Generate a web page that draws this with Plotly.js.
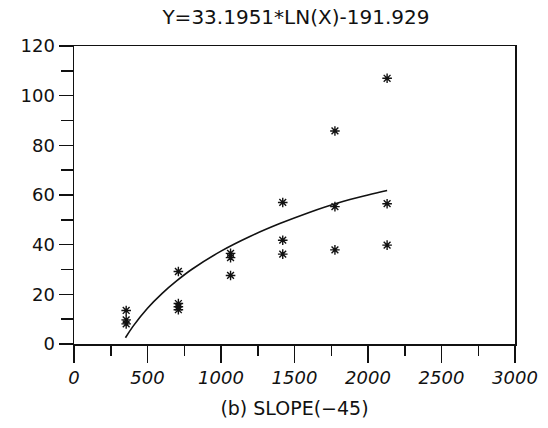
<!DOCTYPE html>
<html>
<head>
<meta charset="utf-8">
<script src="https://cdn.plot.ly/plotly-3.0.1.min.js"></script>
<style>html,body{margin:0;padding:0;background:#fff;}#chart{width:548px;height:428px;}</style>
</head>
<body>
<div id="chart"></div>
<script>
// Observed data (asterisks)
const obsX = [355, 355, 355, 710, 710, 710, 710, 1065, 1065, 1065, 1420, 1420, 1420, 1775, 1775, 1775, 2130, 2130, 2130];
const obsY = [13.5, 9.7, 8.1, 29.2, 16.3, 15.0, 13.8, 36.5, 34.8, 27.6, 57.0, 41.8, 36.2, 85.8, 55.3, 37.9, 107.0, 56.5, 39.8];

// Fitted curve
const fitX = [350, 400, 500, 600, 700, 800, 1000, 1200, 1400, 1600, 1800, 2000, 2130];
const fitY = [2.5, 7.0, 14.4, 20.4, 25.5, 30.0, 37.4, 43.4, 48.5, 53.0, 56.9, 60.0, 61.8];

const titleText = "Y=33.1951*LN(X)-191.929";
const xTitle = "(b) SLOPE(\u221245)";

const font = {family: "DejaVu Sans, sans-serif", size: 18, color: "#111"};

const traces = [
  {x: fitX, y: fitY, mode: "lines", type: "scatter", line: {color: "#111", width: 1.6, shape: "spline"}, hoverinfo: "skip"},
  {x: obsX, y: obsY, mode: "markers", type: "scatter",
   marker: {symbol: "asterisk-open", size: 8, color: "#111", line: {color: "#111", width: 1.4}}}
];

const layout = {
  width: 548, height: 428,
  margin: {l: 74, r: 33, t: 46, b: 84},
  paper_bgcolor: "#fff", plot_bgcolor: "#fff",
  showlegend: false,
  font: font,
  title: {text: titleText, font: {family: "DejaVu Sans, sans-serif", size: 20, color: "#111"}, x: 0.54, xanchor: "center", y: 0.96, yanchor: "middle"},
  xaxis: {
    range: [0, 3000], dtick: 500, tick0: 0,
    ticks: "outside", ticklen: 17, tickwidth: 1.5, tickcolor: "#111",
    minor: {dtick: 250, ticks: "outside", ticklen: 10, tickwidth: 1.5, tickcolor: "#111"},
    showline: true, linecolor: "#111", linewidth: 1.5, mirror: true,
    showgrid: false, zeroline: false,
    tickfont: {family: "DejaVu Sans, sans-serif", size: 18, color: "#111", style: "italic"},
    title: {text: xTitle, font: {family: "DejaVu Sans, sans-serif", size: 19, color: "#111"}, standoff: 14}
  },
  yaxis: {
    range: [0, 120], dtick: 20, tick0: 0,
    ticks: "outside", ticklen: 14, tickwidth: 1.5, tickcolor: "#111",
    minor: {dtick: 10, ticks: "outside", ticklen: 12, tickwidth: 1.5, tickcolor: "#111"},
    showline: true, linecolor: "#111", linewidth: 1.5, mirror: true,
    showgrid: false, zeroline: false,
    tickfont: {family: "DejaVu Sans, sans-serif", size: 18, color: "#111"}
  }
};

Plotly.newPlot("chart", traces, layout, {staticPlot: true, displayModeBar: false});
</script>
</body>
</html>
